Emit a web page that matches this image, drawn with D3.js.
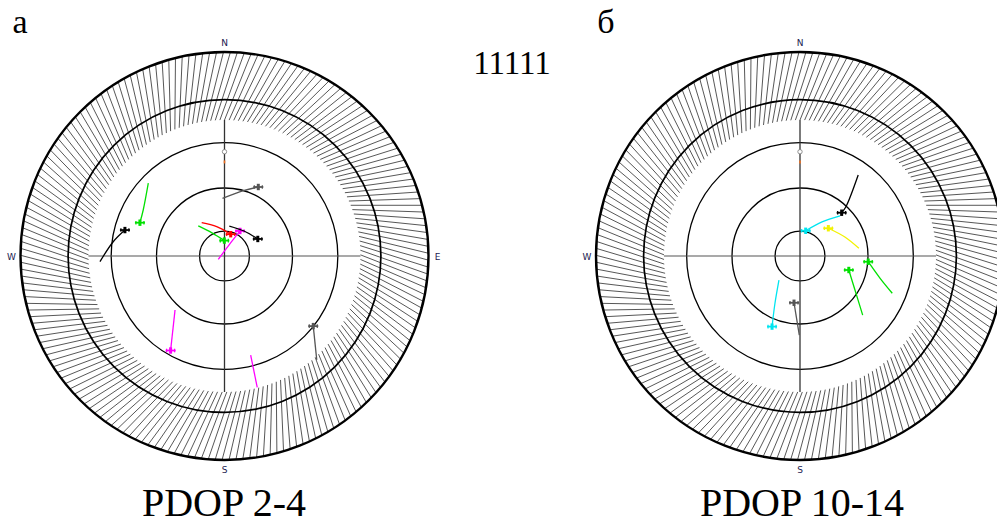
<!DOCTYPE html>
<html>
<head>
<meta charset="utf-8">
<script src="https://cdn.jsdelivr.net/npm/d3@7"></script>
<style>
  body { margin: 0; background: #fff; }
  text { font-family: "Liberation Serif", "Times New Roman", serif; }
</style>
</head>
<body>
<svg id="chart"></svg>
<script>
// panel captions
var panelLetters = ["а", "б"];
var panelTitles = ["PDOP 2-4", "PDOP 10-14"];
var noteText = "11111";
var compass = [["N", 0], ["E", 90], ["S", 180], ["W", 270]];

// elevation rings (deg) and mask elevation
var ringElevations = [79, 60, 40, 21, 0];
var maskElevation = 30;
var hatchCount = 185;

// satellite tracks: [azimuth, elevation], last point = current position
var leftTracks = [
  { color: "#000", pts: [[267.4, 35.0], [277.3, 40.5], [284.6, 44.6]], mark: true },
  { color: "#00e000", pts: [[313.7, 43.5], [299.5, 48.8], [291.5, 49.9]], mark: true },
  { color: "#555", pts: [[358.0, 64.6], [16.1, 60.0], [26.1, 56.1]], mark: true },
  { color: "#ff0000", pts: [[325.6, 72.2], [345.1, 76.6], [15.9, 80.0]], mark: true },
  { color: "#00e000", pts: [[318.9, 72.4], [331.5, 78.4], [359.3, 83.2]], mark: true },
  { color: "#ff00ff", pts: [[242.0, 86.9], [22.2, 84.8], [31.8, 77.0]], mark: true },
  { color: "#000", pts: [[9.1, 76.6], [38.0, 76.0], [62.9, 73.5]], mark: true },
  { color: "#ff00ff", pts: [[222.5, 57.7], [209.7, 42.0]], mark: true },
  { color: "#ff00ff", pts: [[165.2, 44.8], [166.0, 30.3]], mark: false },
  { color: "#555", pts: [[138.4, 28.7], [128.3, 40.1]], mark: true }
];

var rightTracks = [
  { color: "#000", pts: [[35.7, 46.0], [43.0, 60.3], [43.9, 63.5]], mark: true },
  { color: "#00e5f0", pts: [[45.0, 65.0], [32.9, 72.1], [12.7, 78.6]], mark: true },
  { color: "#f2f200", pts: [[82.6, 63.8], [67.1, 68.5], [45.6, 72.5]], mark: true },
  { color: "#00e000", pts: [[112.0, 46.1], [105.6, 53.3], [94.8, 59.8]], mark: true },
  { color: "#00e000", pts: [[133.3, 52.0], [121.7, 61.5], [106.0, 67.6]], mark: true },
  { color: "#00e5f0", pts: [[221.2, 75.9], [207.9, 66.4], [201.6, 56.5]], mark: true },
  { color: "#555", pts: [[180.5, 55.1], [187.3, 69.2]], mark: true }
];

var width = 997, height = 524;
var R = 204;
var rScale = d3.scaleLinear().domain([90, 0]).range([0, R]);
var deg = Math.PI / 180;

var svg = d3.select("#chart")
  .attr("width", width)
  .attr("height", height)
  .style("display", "block");

svg.append("rect").attr("width", width).attr("height", height).attr("fill", "#fff");

var line = d3.lineRadial()
  .angle(function (d) { return d[0] * deg; })
  .radius(function (d) { return rScale(d[1]); })
  .curve(d3.curveCatmullRom);

function drawSkyplot(g, tracks, cx) {
  var rIn = rScale(maskElevation), rOut = rScale(0);

  // obstruction mask hatching
  g.append("g").selectAll("line")
    .data(d3.range(hatchCount))
    .join("line")
      .each(function (i) {
        var a = i * 360 / hatchCount;
        var p0 = d3.pointRadial(a * deg, rIn);
        var p1 = d3.pointRadial((a + 7.5) * deg, rOut);
        d3.select(this).attr("x1", p0[0]).attr("y1", p0[1]).attr("x2", p1[0]).attr("y2", p1[1]);
      })
      .attr("stroke", "#444")
      .attr("stroke-width", 0.9);

  // elevation rings
  g.append("g").selectAll("circle")
    .data(ringElevations)
    .join("circle")
      .attr("r", function (d) { return rScale(d); })
      .attr("fill", "none")
      .attr("stroke", "#000")
      .attr("stroke-width", function (d) { return d === 0 ? 2.4 : (d < maskElevation ? 1.7 : 1.3); });

  // cross hair
  g.append("line").attr("x1", -rIn).attr("x2", rIn).attr("y1", 0).attr("y2", 0)
    .attr("stroke", "#555").attr("stroke-width", 1.1);
  g.append("line").attr("y1", -rIn).attr("y2", rIn).attr("x1", 0).attr("x2", 0)
    .attr("stroke", "#333").attr("stroke-width", 1.3);

  // small reference marks on the north axis
  var pc = d3.pointRadial(0, rScale(44));
  g.append("circle").attr("cx", pc[0]).attr("cy", pc[1]).attr("r", 2.2)
    .attr("fill", "#fff").attr("stroke", "#777").attr("stroke-width", 0.8);
  var po = d3.pointRadial(0, rScale(48.5));
  g.append("line").attr("x1", po[0]).attr("x2", po[0]).attr("y1", po[1] - 1.5).attr("y2", po[1] + 1.5)
    .attr("stroke", "#f07020").attr("stroke-width", 1.6);

  // compass labels (only those inside the window)
  g.append("g").selectAll("text")
    .data(compass.filter(function (d) { return cx + d3.pointRadial(d[1] * deg, R + 9)[0] < width - 6; }))
    .join("text")
      .attr("x", function (d) { return d3.pointRadial(d[1] * deg, R + 9)[0]; })
      .attr("y", function (d) { return d3.pointRadial(d[1] * deg, R + 9.5)[1] + 3.5; })
      .attr("text-anchor", "middle")
      .style("font-family", "'DejaVu Sans', sans-serif")
      .style("font-size", "9px")
      .attr("fill", "#1a1a50")
      .text(function (d) { return d[0]; });

  // tracks
  var tg = g.append("g").selectAll("g")
    .data(tracks)
    .join("g");
  tg.append("path")
    .attr("d", function (d) { return line(d.pts); })
    .attr("fill", "none")
    .attr("stroke", function (d) { return d.color; })
    .attr("stroke-width", 1.3);

  var m = tg.filter(function (d) { return d.mark; })
    .append("g")
      .attr("transform", function (d) {
        var p = d.pts[d.pts.length - 1];
        var xy = d3.pointRadial(p[0] * deg, rScale(p[1]));
        return "translate(" + xy[0] + "," + xy[1] + ")";
      })
      .attr("stroke", function (d) { return d.color; });
  m.append("line").attr("x1", -5).attr("x2", 5).attr("y1", 0).attr("y2", 0).attr("stroke-width", 1.8);
  m.append("line").attr("x1", -4).attr("x2", -4).attr("y1", -1.8).attr("y2", 1.8).attr("stroke-width", 1.2);
  m.append("line").attr("x1", 4).attr("x2", 4).attr("y1", -1.8).attr("y2", 1.8).attr("stroke-width", 1.2);
  m.append("line").attr("x1", 0).attr("x2", 0).attr("y1", -3.2).attr("y2", 3.2).attr("stroke-width", 3);
}

var left = svg.append("g").attr("transform", "translate(224.5,256)");
drawSkyplot(left, leftTracks, 224.5);
var right = svg.append("g").attr("transform", "translate(800,256)");
drawSkyplot(right, rightTracks, 800);

// captions
var letterX = [20, 606];
svg.selectAll(".letter")
  .data(panelLetters)
  .join("text")
    .attr("class", "letter")
    .attr("x", function (d, i) { return letterX[i]; })
    .attr("y", 33)
    .attr("text-anchor", "middle")
    .style("font-size", "34px")
    .text(function (d) { return d; });

svg.append("text")
  .attr("x", 512).attr("y", 74)
  .attr("text-anchor", "middle")
  .style("font-size", "33px")
  .text(noteText);

var titleX = [224, 802];
svg.selectAll(".title")
  .data(panelTitles)
  .join("text")
    .attr("class", "title")
    .attr("x", function (d, i) { return titleX[i]; })
    .attr("y", 516)
    .attr("text-anchor", "middle")
    .style("font-size", "40px")
    .text(function (d) { return d; });
</script>
</body>
</html>
